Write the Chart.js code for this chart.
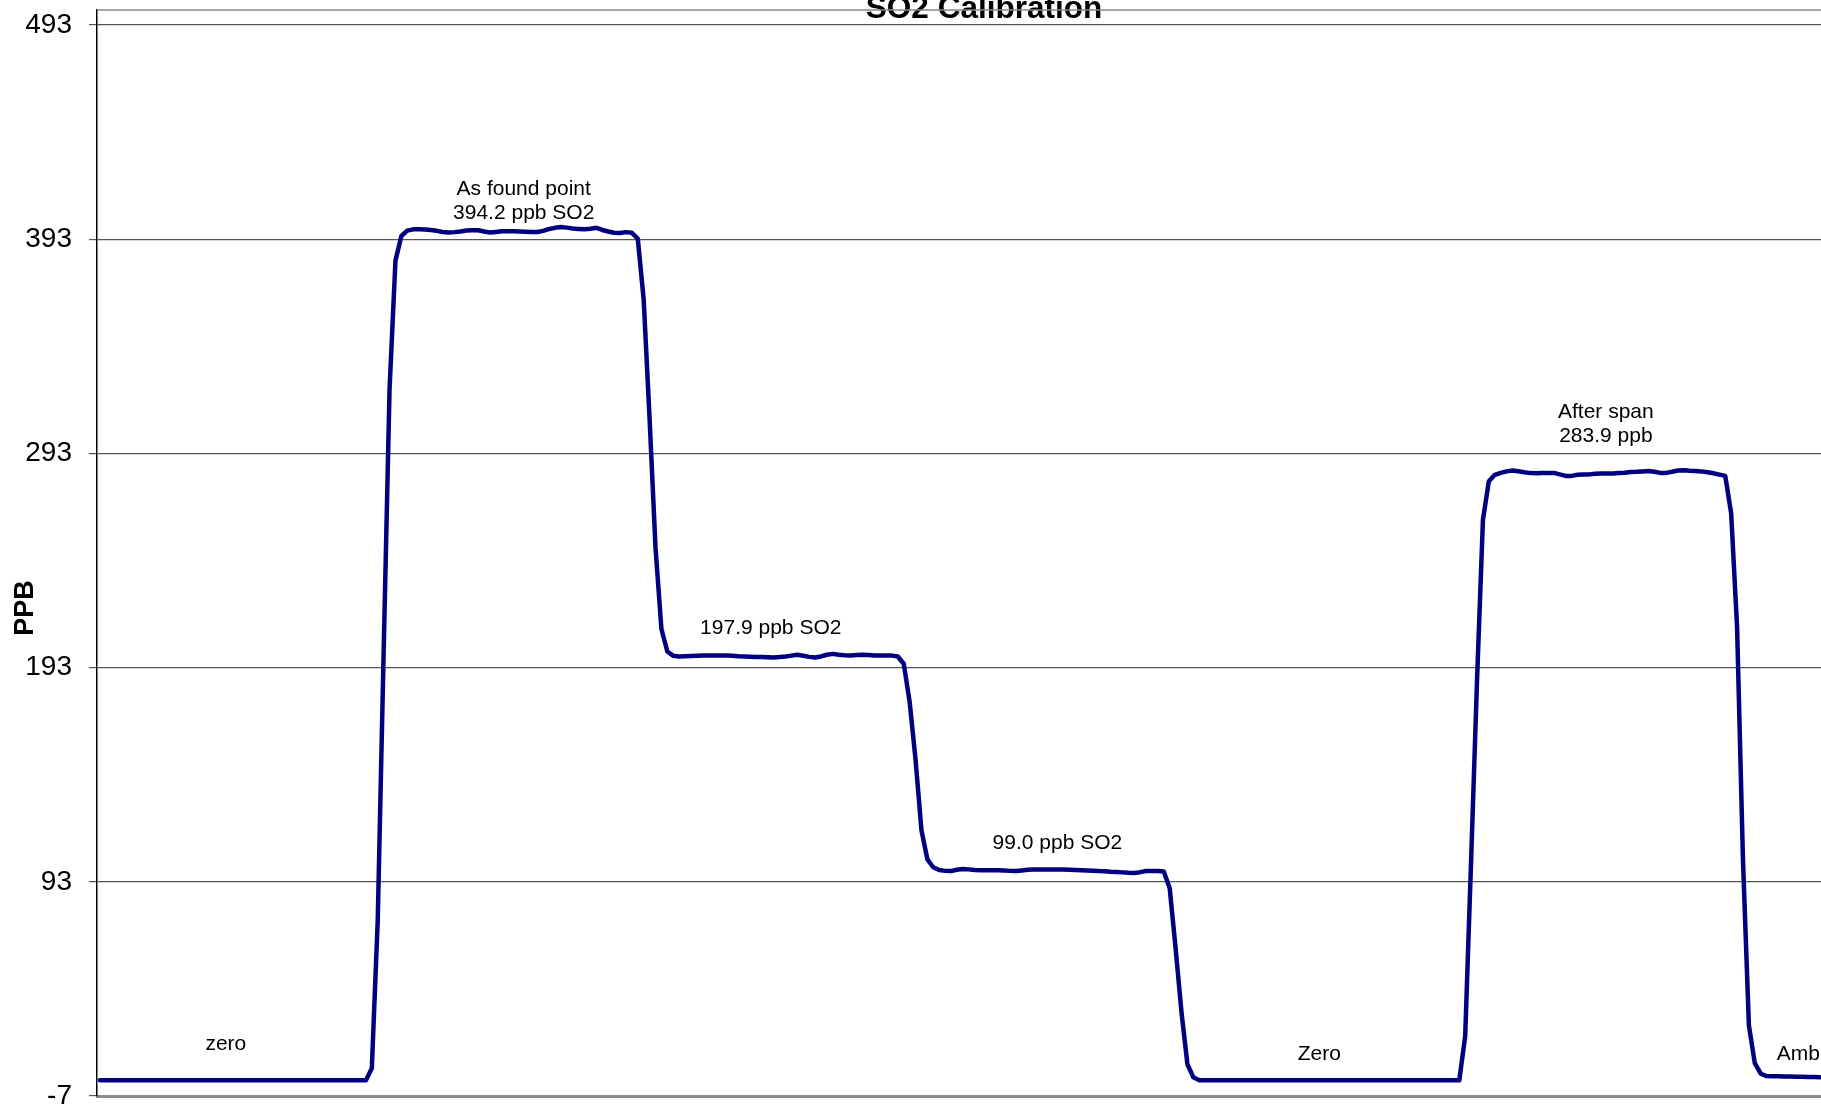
<!DOCTYPE html>
<html><head><meta charset="utf-8">
<script src="https://cdn.jsdelivr.net/npm/chart.js@4.4.1/dist/chart.umd.min.js"></script>
<style>html,body{margin:0;padding:0;background:#fff;overflow:hidden}canvas{display:block}</style>
</head><body>
<canvas id="c" width="1821" height="1108"></canvas>
<script>
const chartTitle = 'SO2 Calibration';
const yAxisTitle = 'PPB';
const yTicks = [-7, 93, 193, 293, 393, 493];
const yMin = -7, yMax = 500;

// SO2 readings (ppb), one per sample
const so2ppb = [
  0.3,0.3,0.3,0.3,0.3,0.3,0.3,0.3,0.3,0.3,
  0.3,0.3,0.3,0.3,0.3,0.3,0.3,0.3,0.3,0.3,
  0.3,0.3,0.3,0.3,0.3,0.3,0.3,0.3,0.3,0.3,
  0.3,0.3,0.3,0.3,0.3,0.3,0.3,0.3,0.3,0.3,
  0.3,0.3,0.3,0.3,0.3,0.3,                       // 0-45
  6,75,200,323,383,394.5,397.0,                  // 46-52
  397.6,397.6,397.5,397.3,396.9,396.4,396.1,396.3,396.6,397.1,   // 53-62
  397.2,397.2,396.6,396.1,396.4,396.7,396.7,396.7,396.6,396.5,   // 63-72
  396.4,396.4,396.9,397.8,398.3,398.7,398.4,398.0,397.8,397.6,   // 73-82
  397.9,398.3,397.3,396.6,396.0,395.9,396.3,396.0,               // 83-90
  393.3,364.7,309,249,211,200.5,198.5,           // 91-97
  198.2,198.3,198.4,198.5,198.6,198.7,198.7,198.7,198.6,198.5,   // 98-107
  198.3,198.2,198.1,198.0,197.9,197.8,197.7,197.9,198.2,198.6,   // 108-117
  199.0,198.5,198.0,197.7,198.2,199.0,199.4,199.0,198.8,198.7,   // 118-127
  198.9,199.0,198.9,198.7,198.7,198.7,198.6,198.2,               // 128-135
  194.8,177,150,117,103.5,99.8,                  // 136-141
  98.5,98.1,98.0,98.6,99.0,98.8,98.5,98.4,98.4,98.4,             // 142-151
  98.4,98.3,98.1,98.0,98.3,98.6,98.7,98.7,98.7,98.7,             // 152-161
  98.7,98.7,98.6,98.5,98.4,98.3,98.2,98.0,97.9,97.7,             // 162-171
  97.6,97.4,97.2,97.1,97.5,98.0,98.0,98.0,97.8,                  // 172-180
  90,62,32,7.8,1.7,                              // 181-185
  0.3,0.3,0.3,0.3,0.3,0.3,0.3,0.3,0.3,0.3,
  0.3,0.3,0.3,0.3,0.3,0.3,0.3,0.3,0.3,0.3,
  0.3,0.3,0.3,0.3,0.3,0.3,0.3,0.3,0.3,0.3,
  0.3,0.3,0.3,0.3,0.3,0.3,0.3,0.3,0.3,0.3,
  0.3,0.3,0.3,0.3,0.3,                           // 186-230
  21,103,187,262,280,                            // 231-235
  283.0,283.9,284.6,285.0,284.7,284.2,283.8,283.7,283.8,283.9,   // 236-245
  283.9,283.2,282.5,282.5,283.0,283.2,283.2,283.5,283.6,283.6,   // 246-255
  283.6,283.8,284.0,284.3,284.4,284.6,284.8,284.4,283.9,283.9,   // 256-265
  284.4,285.0,285.1,284.9,284.8,284.6,284.2,283.7,283.1,282.5,   // 266-275
  265,212,103,26,8.3,3.4,                        // 276-281
  2.3,2.2,2.2,2.1,2.1,2.0,2.0,1.9,1.9,1.8        // 282-291
];

// Text notes placed in data coordinates (sample index, ppb of first line baseline)
const noteLines = [['zero'], ['As found point', '394.2 ppb SO2'], ['197.9 ppb SO2'], ['99.0 ppb SO2'], ['Zero'], ['After span', '283.9 ppb'], ['Ambient']];
const noteX = [21.3, 71.7, 113.5, 162.0, 206.3, 254.8, 283.7];
const noteY = [14.3, 413.5, 208.9, 108.5, 10.0, 309.5, 9.7];
const noteAlign = ['center', 'center', 'center', 'center', 'center', 'center', 'left'];

const FAMILY = '"Liberation Sans", Arial, Helvetica, sans-serif';

const overlay = {
  id: 'overlay',
  beforeDraw(chart) {
    const ctx = chart.ctx;
    ctx.save();
    ctx.fillStyle = '#000';
    ctx.font = 'bold 31.5px ' + FAMILY;
    ctx.textAlign = 'center';
    ctx.textBaseline = 'alphabetic';
    ctx.fillText(chartTitle, 984, 18);
    ctx.translate(25.5, 608);
    ctx.rotate(-Math.PI / 2);
    ctx.font = 'bold 27px ' + FAMILY;
    ctx.textBaseline = 'middle';
    ctx.fillText(yAxisTitle, 0, 0);
    ctx.restore();
  },
  beforeDatasetsDraw(chart) {
    const {ctx, chartArea} = chart;
    ctx.save();
    ctx.strokeStyle = '#888';
    ctx.lineWidth = 1.5;
    ctx.beginPath();
    ctx.moveTo(chartArea.left, chartArea.top);
    ctx.lineTo(chartArea.right, chartArea.top);
    ctx.stroke();
    ctx.restore();
  },
  afterDatasetsDraw(chart) {
    const {ctx} = chart;
    const xs = chart.scales.x, ys = chart.scales.y;
    ctx.save();
    ctx.fillStyle = '#000';
    ctx.font = '21px ' + FAMILY;
    ctx.textBaseline = 'alphabetic';
    noteLines.forEach((lines, k) => {
      ctx.textAlign = noteAlign[k];
      const px = xs.getPixelForValue(noteX[k]);
      const py = ys.getPixelForValue(noteY[k]);
      lines.forEach((t, j) => ctx.fillText(t, px, py + j * 24));
    });
    ctx.restore();
  }
};

new Chart(document.getElementById('c'), {
  type: 'line',
  data: {
    datasets: [{
      label: 'SO2',
      data: so2ppb.map((v, i) => ({x: i, y: v})),
      borderColor: '#000080',
      borderWidth: 4.5,
      pointRadius: 0,
      tension: 0,
      fill: false,
      borderJoinStyle: 'round',
      borderCapStyle: 'round'
    }]
  },
  options: {
    responsive: false,
    animation: false,
    devicePixelRatio: 1,
    layout: {padding: {top: 10, left: 0, right: 0, bottom: 0}},
    plugins: {legend: {display: false}, tooltip: {enabled: false}, title: {display: false}},
    scales: {
      x: {
        type: 'linear', min: -0.5, max: 291.2,
        ticks: {display: false},
        grid: {display: false, drawTicks: false},
        border: {display: true, color: '#8c8c8c', width: 3},
        afterFit(s) { s.height = 12; s.paddingLeft = 0; s.paddingRight = 0; }
      },
      y: {
        type: 'linear', min: yMin, max: yMax,
        afterBuildTicks(s) { s.ticks = yTicks.map(v => ({value: v})); },
        afterFit(s) { s.width = 97; s.paddingTop = 0; s.paddingBottom = 0; },
        ticks: {font: {family: FAMILY, size: 28}, color: '#000', padding: 17},
        grid: {color: '#555', lineWidth: 1.2, tickLength: 8, drawTicks: true, tickColor: '#555'},
        border: {display: true, color: '#000', width: 1.5}
      }
    }
  },
  plugins: [overlay]
});
</script>
</body></html>
